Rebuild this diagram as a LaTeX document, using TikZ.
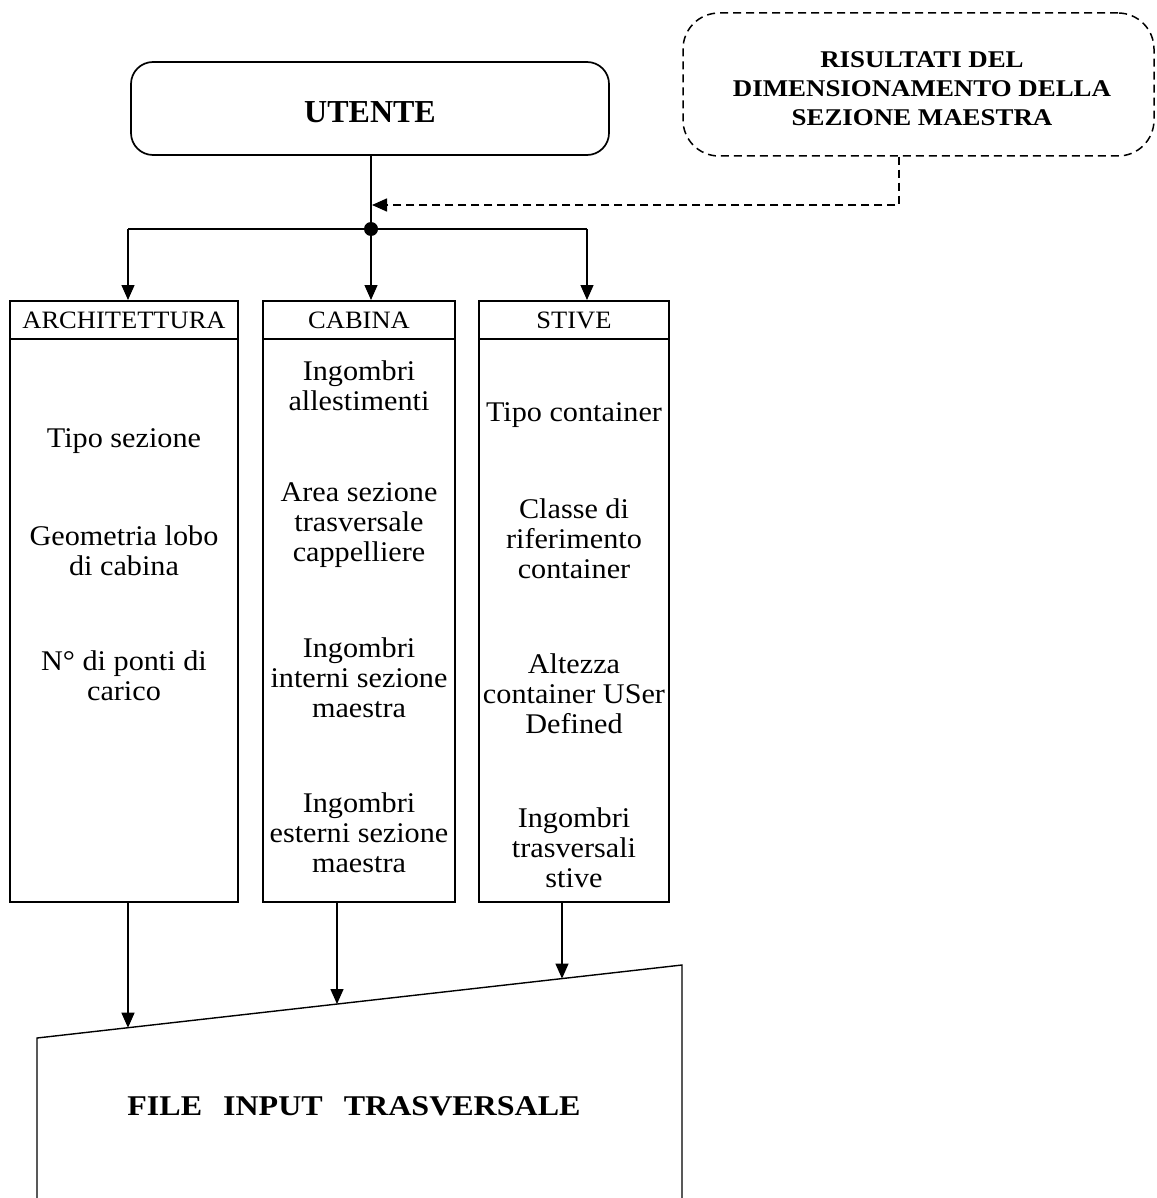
\documentclass[tikz,border=0pt]{standalone}
\usepackage{fontspec}
\setmainfont{Liberation Serif}
\newfontfamily\widefont[FakeStretch=1.06]{Liberation Serif}
\newfontfamily\widerfont[FakeStretch=1.12]{Liberation Serif}
\usetikzlibrary{arrows.meta,calc}
\tikzset{
  arr/.style={-{Triangle[length=15pt,width=13pt]},line width=1.3pt},
  hdr/.style={draw,line width=2pt,inner sep=0pt,font=\widefont\fontsize{25}{28}\selectfont},
  colbody/.style={draw,line width=1.4pt,inner sep=0pt},
  txt/.style={align=center,inner sep=0pt,font=\widefont\fontsize{28.5}{30}\selectfont},
  dsh/.style={dash pattern=on 8pt off 5pt,line width=1.5pt}
}
\begin{document}
\begin{tikzpicture}[x=1pt,y=-1pt]
\useasboundingbox (0,0) rectangle (1156,1198);
% top boxes
\node[draw,line width=1.7pt,rounded corners=22pt,minimum width=478pt,minimum height=93pt,font=\bfseries\fontsize{32}{34}\selectfont] (utente) at (370,108.5) {\raisebox{-4pt}[\height][\depth]{UTENTE}};
\node[draw,dsh,rounded corners=36pt,minimum width=471pt,minimum height=143pt] (ris) at (918.5,84.5) {};
\node[align=center,inner sep=0pt,font=\widerfont\bfseries\fontsize{24}{29}\selectfont] (ristxt) at (922,88.5) {RISULTATI DEL\\DIMENSIONAMENTO DELLA\\SEZIONE MAESTRA};
% junction
\coordinate (j) at (371,229);
\fill (j) circle (7pt);
\coordinate (dk) at (899,205);
\coordinate (dt) at (372,205);
\draw[line width=1.3pt] (utente.south -| j) -- (j);
\draw[dsh,-{Triangle[length=15pt,width=13pt]}] (ris.south -| dk) -- (dk) -- (dt);
% columns
\node[hdr,minimum width=228pt,minimum height=38pt] (h1) at (124,320) {ARCHITETTURA};
\node[hdr,minimum width=192pt,minimum height=38pt] (h2) at (359,320) {CABINA};
\node[hdr,minimum width=190pt,minimum height=38pt] (h3) at (574,320) {STIVE};
\node[colbody,minimum width=228pt,minimum height=563pt] (b1) at (124,620.5) {};
\node[colbody,minimum width=192pt,minimum height=563pt] (b2) at (359,620.5) {};
\node[colbody,minimum width=190pt,minimum height=563pt] (b3) at (574,620.5) {};
\coordinate (a1) at (128,229);
\coordinate (a3) at (587,229);
\draw[line width=1.3pt] (a1) -- (a3);
\draw[arr] (a1) -- (a1 |- h1.north);
\draw[arr] (j) -- (j |- h2.north);
\draw[arr] (a3) -- (a3 |- h3.north);
% texts
\node[txt] (t11) at (124,441) {Tipo sezione};
\node[txt] (t12) at (124,551) {Geometria lobo\\di cabina};
\node[txt] (t13) at (124,676) {N° di ponti di\\carico};
\node[txt] (t21) at (359,386) {Ingombri\\allestimenti};
\node[txt] (t22) at (359,525) {Area sezione\\trasversale\\cappelliere};
\node[txt] (t23) at (359,678) {Ingombri\\interni sezione\\maestra};
\node[txt] (t24) at (359,833) {Ingombri\\esterni sezione\\maestra};
\node[txt] (t31) at (574,415) {Tipo container};
\node[txt] (t32) at (574,539) {Classe di\\riferimento\\container};
\node[txt] (t33) at (574,694) {Altezza\\container USer\\Defined};
\node[txt] (t34) at (574,848) {Ingombri\\trasversali\\stive};
% file input
\draw[line width=1.4pt] (37,1215) -- (37,1038) coordinate (fl) -- (682,965) coordinate (fr) -- (682,1215);
\coordinate (e1) at ($(fl)!{(128-37)/645}!(fr)$);
\coordinate (e2) at ($(fl)!{(337-37)/645}!(fr)$);
\coordinate (e3) at ($(fl)!{(562-37)/645}!(fr)$);
\draw[arr] (b1.south -| e1) -- (e1);
\draw[arr] (b2.south -| e2) -- (e2);
\draw[arr] (b3.south -| e3) -- (e3);
\node[font=\widerfont\bfseries\fontsize{28.6}{30}\selectfont,inner sep=0pt] (file) at (354,1106) {FILE\hspace{21pt}INPUT\hspace{21pt}TRASVERSALE};
\end{tikzpicture}
\end{document}
